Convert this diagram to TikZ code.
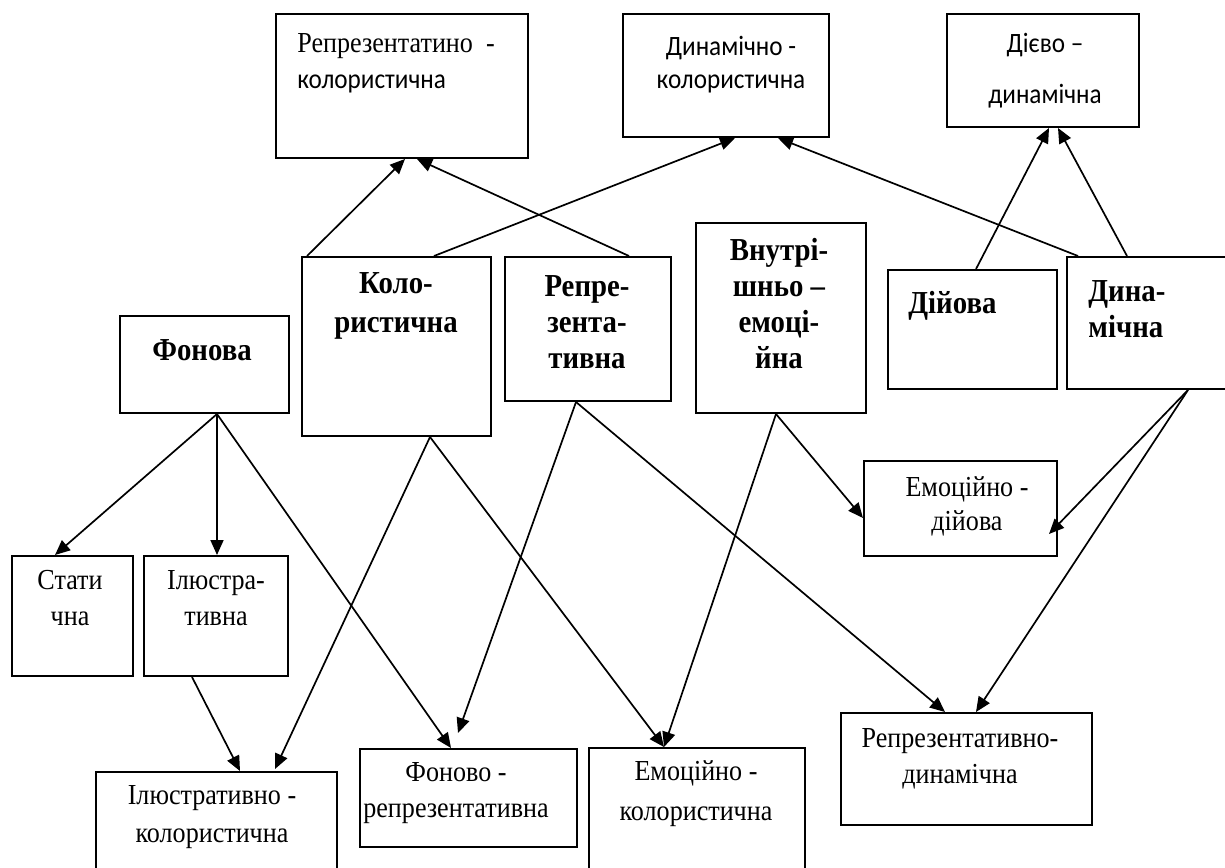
\documentclass[tikz,border=0pt]{standalone}
\usepackage{fontspec}
\setmainfont{Liberation Serif}[FakeStretch=0.9]
\newfontfamily\carlito{Carlito}[FakeStretch=0.9]
\usetikzlibrary{arrows.meta,calc}

\begin{document}
\begin{tikzpicture}[x=0.5pt,y=-0.5pt,
    box/.style={draw, line width=1pt, anchor=north west, inner sep=0pt},
    sz/.style 2 args={minimum width=#1*0.5pt, minimum height=#2*0.5pt},
    arr/.style={-{Triangle[length=7.5pt,width=6.5pt]}, line width=0.85pt},
    rm/.style={font=\fontsize{14.5}{18}\selectfont, align=center, anchor=base, inner sep=0pt},
    bf/.style={font=\fontsize{16}{18}\selectfont\bfseries, align=center, anchor=base, inner sep=0pt},
    sf/.style={font=\carlito\fontsize{14}{16.5}\selectfont, align=center, anchor=base, inner sep=0pt}]
  \useasboundingbox (0,0) rectangle (1225,867);
  \clip (0,0) rectangle (1225,867);

  % upper row (text nodes sit on the baseline of their last line)
  \node[box, sz={252}{144}] (repkol) at (275,13) {};
  \node[box, sz={206}{123}] (dynkol) at (622,13) {};
  \node[box, sz={192}{113}] (diydyn) at (946,13) {};
  \node[rm, anchor=base west, align=left] (repkol-t) at (297,88)
    {Репрезентатино \ -\\{\carlito\fontsize{14}{16.5}\selectfont колористична}};
  \node[sf] (dynkol-t) at (731,88) {Динамічно -\\колористична};
  \node[sf] (diydyn-t) at (1045,103) {Дієво –\\[9pt]динамічна};

  % middle row
  \node[box, sz={169}{97}] (fonova) at (119,315) {};
  \node[box, sz={189}{179}] (kolor) at (301,256) {};
  \node[box, sz={166}{144}] (repre) at (504,256) {};
  \node[box, sz={170}{190}] (vnutr) at (695,222) {};
  \node[box, sz={169}{119}] (diyova) at (887,269) {};
  \node[box, sz={174}{132}] (dyn) at (1066,256) {};
  \node[bf] (fonova-t) at (202,360) {Фонова};
  \node[bf] (kolor-t) at (396,332) {Коло-\\[1.5pt]ристична};
  \node[bf] (repre-t) at (587,368) {Репре-\\зента-\\тивна};
  \node[bf] (vnutr-t) at (779,368) {Внутрі-\\шньо –\\емоці-\\йна};
  \node[bf, anchor=base west] (diyova-t) at (908,313) {Дійова};
  \node[bf, anchor=base west, align=left] (dyn-t) at (1088,337) {Дина-\\мічна};

  % lower rows
  \node[box, sz={121}{120}] (stat) at (11,555) {};
  \node[box, sz={144}{120}] (ilus) at (143,555) {};
  \node[box, sz={193}{95}] (emdiy) at (863,460) {};
  \node[box, sz={241}{120}] (iluskol) at (95,771) {};
  \node[box, sz={217}{98}] (fonrep) at (359,748) {};
  \node[box, sz={216}{133}] (emkol) at (588,747) {};
  \node[box, sz={251}{112}] (repdyn) at (840,712) {};
  \node[rm] (stat-t) at (70,625) {Стати\\чна};
  \node[rm] (ilus-t) at (216,625) {Ілюстра-\\тивна};
  \node[rm] (emdiy-t) at (967,530) {Емоційно -\\[-1pt]дійова};
  \node[rm] (iluskol-t) at (212,842) {Ілюстративно -\\[1pt]колористична};
  \node[rm] (fonrep-t) at (456,817) {Фоново -\\репрезентативна};
  \node[rm] (emkol-t) at (696,820) {Емоційно -\\[2pt]колористична};
  \node[rm] (repdyn-t) at (960,783) {Репрезентативно-\\динамічна};

  % arrows up
  \draw[arr] ($(kolor.north west)+(6,0)$) -- ($(repkol.south)+(3,0)$);
  \draw[arr] ($(repre.north)+(41,0)$) -- ($(repkol.south)+(15,0)$);
  \draw[arr] ($(kolor.north)+(37.5,0)$) -- ($(dynkol.south)+(9,0)$);
  \draw[arr] ($(dyn.north west)+(12,0)$) -- ($(dynkol.south)+(52,0)$);
  \draw[arr] ($(diyova.north)+(3.5,0)$) -- ($(diydyn.south)+(6,0)$);
  \draw[arr] ($(dyn.north west)+(61,0)$) -- ($(diydyn.south)+(15,0)$);

  % arrows down
  \draw[arr] ($(fonova.south)+(12.5,0)$) -- ($(stat.north)+(-17.5,0)$);
  \draw[arr] ($(fonova.south)+(12.5,0)$) -- ($(ilus.north)+(1,0)$);
  \draw[arr] ($(fonova.south)+(12.5,0)$) -- ($(fonrep.north)+(-17.5,0)$);
  \draw[arr] ($(ilus.south)+(-24,0)$) -- ($(iluskol.north)+(23.5,0)$);
  \draw[arr] ($(kolor.south)+(33.5,0)$) -- ($(iluskol.north)+(58.5,-2)$);
  \draw[arr] ($(kolor.south)+(33.5,0)$) -- ($(emkol.north)+(-33,0)$);
  \draw[arr] ($(repre.south)+(-12,0)$) -- ($(fonrep.north)+(-10.5,-15)$);
  \draw[arr] ($(repre.south)+(-12,0)$) -- ($(repdyn.north)+(-21.5,0)$);
  \draw[arr] ($(vnutr.south)+(-5,0)$) -- ($(emkol.north)+(-33,0)$);
  \draw[arr] ($(vnutr.south)+(-5,0)$) -- ($(emdiy.west)+(0,9.5)$);
  \draw[arr] ($(dyn.south west)+(122,0)$) -- ($(emdiy.east)+(-9,25.5)$);
  \draw[arr] ($(dyn.south west)+(122,0)$) -- ($(repdyn.north)+(9.5,0)$);
\end{tikzpicture}
\end{document}
